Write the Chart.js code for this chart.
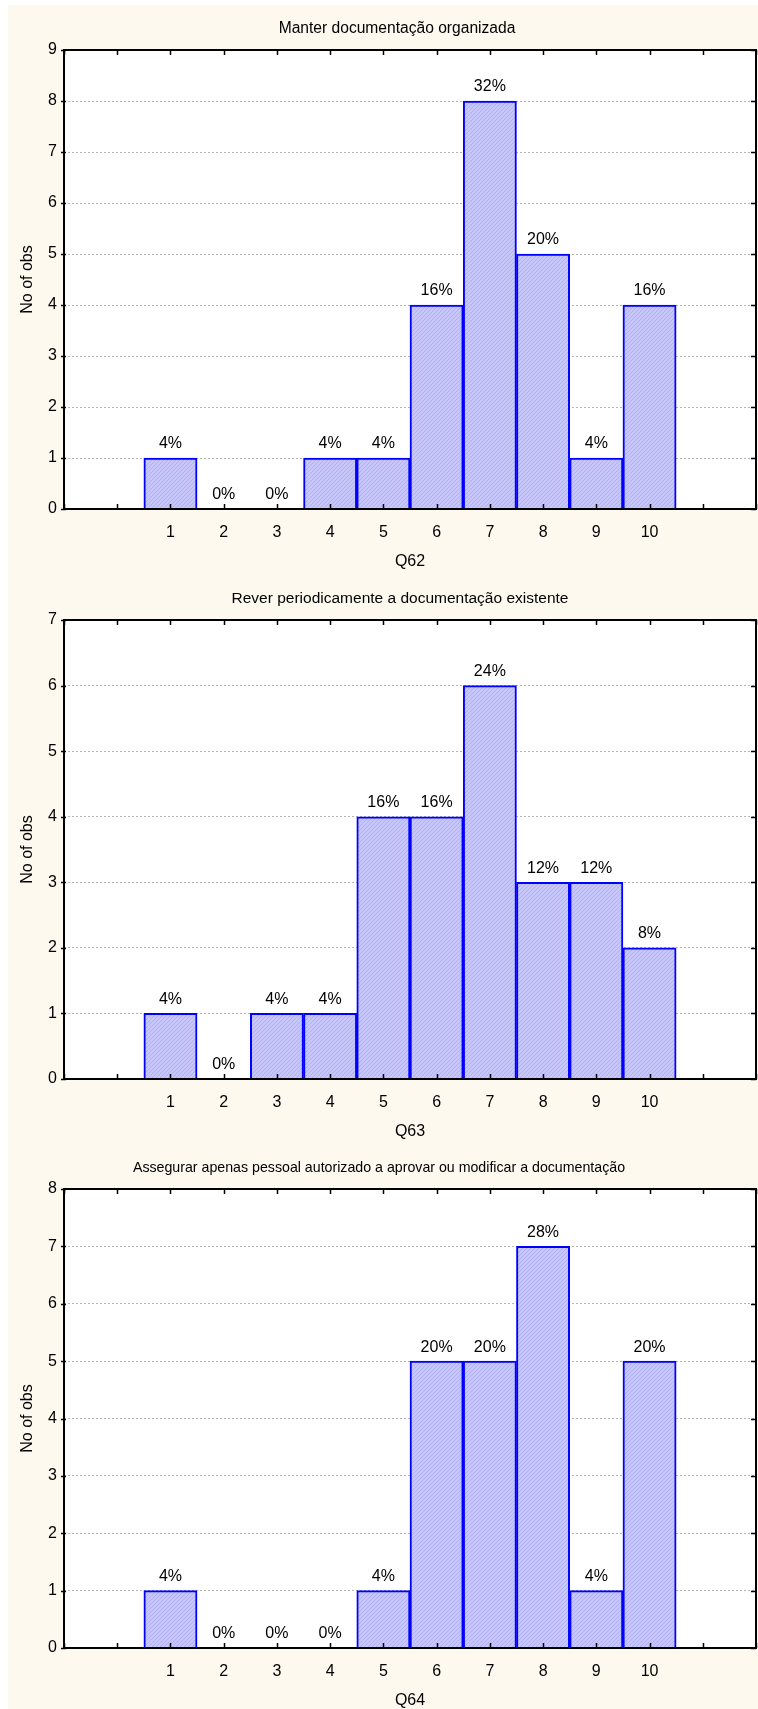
<!DOCTYPE html>
<html>
<head>
<meta charset="utf-8">
<script src="https://cdn.jsdelivr.net/npm/chart.js@4.4.0/dist/chart.umd.min.js"></script>
<style>
  html, body { margin: 0; padding: 0; background: #fff; }
  #page { position: relative; width: 758px; height: 1709px; overflow: hidden; }
  #paper { position: absolute; left: 8px; top: 5px; right: 0; bottom: 0; background: #fdf9ef; }
  canvas { display: block; position: relative; }
</style>
</head>
<body>
<div id="page">
  <div id="paper"></div>
  <canvas id="c62" width="758" height="570"></canvas>
  <canvas id="c63" width="758" height="569"></canvas>
  <canvas id="c64" width="758" height="570"></canvas>
</div>
<script>
// answer scale 1..10 and number of respondents per score
const scores = [1, 2, 3, 4, 5, 6, 7, 8, 9, 10];
const q62 = [1, 0, 0, 1, 1, 4, 8, 5, 1, 4];
const q63 = [1, 0, 1, 1, 4, 4, 6, 3, 3, 2];
const q64 = [1, 0, 0, 0, 1, 5, 5, 7, 1, 5];

const q62Title = 'Manter documentação organizada';
const q63Title = 'Rever periodicamente a documentação existente';
const q64Title = 'Assegurar apenas pessoal autorizado a aprovar ou modificar a documentação';

const yMax = { Q62: 9, Q63: 7, Q64: 8 };
const titleSize = { Q62: 15.6, Q63: 15.5, Q64: 14.2 };
const titleX = { Q62: 397, Q63: 400, Q64: 379 };

const FONT = '"Liberation Sans", Arial, sans-serif';
const TXT = 16;
const PLOT_TOP = 50;
const PLOT_BOTTOM = 509;   // y of the zero line inside each canvas

function hatch() {
  const c = document.createElement('canvas');
  c.width = c.height = 4;
  const g = c.getContext('2d');
  g.fillStyle = '#c6c6fb';
  g.fillRect(0, 0, 4, 4);
  g.strokeStyle = '#b2b2f3';
  g.lineWidth = 1;
  g.beginPath();
  g.moveTo(-1, 1); g.lineTo(1, -1);
  g.moveTo(0, 4); g.lineTo(4, 0);
  g.moveTo(3, 5); g.lineTo(5, 3);
  g.stroke();
  return g.createPattern(c, 'repeat');
}

// white plot area, title, black frame with inward ticks, % labels over bars
const frame = {
  id: 'frame',
  beforeDraw(chart) {
    const { ctx, chartArea: a } = chart;
    const o = chart.options.plugins.frame;
    ctx.save();
    ctx.fillStyle = '#fff';
    ctx.fillRect(a.left, a.top, a.right - a.left, a.bottom - a.top);
    ctx.fillStyle = '#000';
    ctx.font = o.size + 'px ' + FONT;
    ctx.textAlign = 'center';
    ctx.textBaseline = 'middle';
    ctx.fillText(o.title, o.x, 29);
    ctx.restore();
  },
  afterDatasetsDraw(chart) {
    const { ctx, chartArea: a, scales } = chart;
    ctx.save();
    ctx.strokeStyle = '#000';
    ctx.lineWidth = 1.5;
    ctx.beginPath();
    scales.x.ticks.forEach(t => {
      const px = Math.round(scales.x.getPixelForValue(t.value)) + 0.5;
      ctx.moveTo(px, a.bottom); ctx.lineTo(px, a.bottom - 5);
      ctx.moveTo(px, a.top); ctx.lineTo(px, a.top + 5);
    });
    scales.y.ticks.forEach(t => {
      const py = Math.round(scales.y.getPixelForValue(t.value)) + 0.5;
      ctx.moveTo(a.right, py); ctx.lineTo(a.right - 5, py);
      ctx.moveTo(a.left - 3, py); ctx.lineTo(a.left + 2, py);
    });
    ctx.stroke();
    ctx.lineWidth = 2;
    ctx.strokeRect(a.left, a.top, a.right - a.left, a.bottom - a.top);

    const ds = chart.data.datasets[0];
    const total = ds.data.reduce((s, p) => s + p.y, 0);
    ctx.fillStyle = '#000';
    ctx.font = TXT + 'px ' + FONT;
    ctx.textAlign = 'center';
    ctx.textBaseline = 'middle';
    chart.getDatasetMeta(0).data.forEach((bar, i) => {
      const pct = Math.round(ds.data[i].y / total * 100);
      ctx.fillText(pct + '%', bar.x, bar.y - 14);
    });
    ctx.restore();
  }
};

function histogram(id, name, title, counts) {
  const canvas = document.getElementById(id);
  const H = canvas.height;
  return new Chart(canvas, {
    type: 'bar',
    data: {
      datasets: [{
        data: scores.map((s, i) => ({ x: s, y: counts[i] })),
        backgroundColor: hatch(),
        borderColor: '#0000ff',
        borderWidth: { top: 2, left: 2, right: 2, bottom: 0 },
        borderSkipped: false,
        barPercentage: 1,
        categoryPercentage: 1
      }]
    },
    options: {
      responsive: false,
      animation: false,
      layout: { padding: { left: 0, right: 2, top: PLOT_TOP, bottom: 0 } },
      plugins: {
        legend: { display: false },
        tooltip: { enabled: false },
        title: { display: false },
        frame: { title: title, size: titleSize[name], x: titleX[name] }
      },
      scales: {
        x: {
          type: 'linear',
          offset: false,
          min: -1,
          max: 12,
          grid: { display: false, drawTicks: false },
          border: { display: false },
          ticks: {
            stepSize: 1,
            autoSkip: false,
            maxRotation: 0,
            padding: 14,
            color: '#000',
            font: { family: FONT, size: TXT },
            callback: v => (v >= 1 && v <= 10 ? String(v) : '')
          },
          title: {
            display: true,
            text: name,
            color: '#000',
            font: { family: FONT, size: TXT, lineHeight: 1 },
            padding: { top: 0, bottom: H - 570 }
          },
          afterFit: s => {
            s.height = H - PLOT_BOTTOM;
            s.paddingLeft = 0;
            s.paddingRight = 0;
          }
        },
        y: {
          min: 0,
          max: yMax[name],
          grid: { color: '#b4b4b4', lineWidth: 1, drawTicks: false },
          border: { display: false, dash: [2, 2] },
          ticks: {
            stepSize: 1,
            padding: 7,
            color: '#000',
            font: { family: FONT, size: TXT }
          },
          title: {
            display: true,
            text: 'No of obs',
            color: '#000',
            font: { family: FONT, size: TXT },
            padding: { top: 18.4, bottom: 0 }
          },
          afterFit: s => { s.width = 64; }
        }
      }
    },
    plugins: [frame]
  });
}

histogram('c62', 'Q62', q62Title, q62);
histogram('c63', 'Q63', q63Title, q63);
histogram('c64', 'Q64', q64Title, q64);
</script>
</body>
</html>
